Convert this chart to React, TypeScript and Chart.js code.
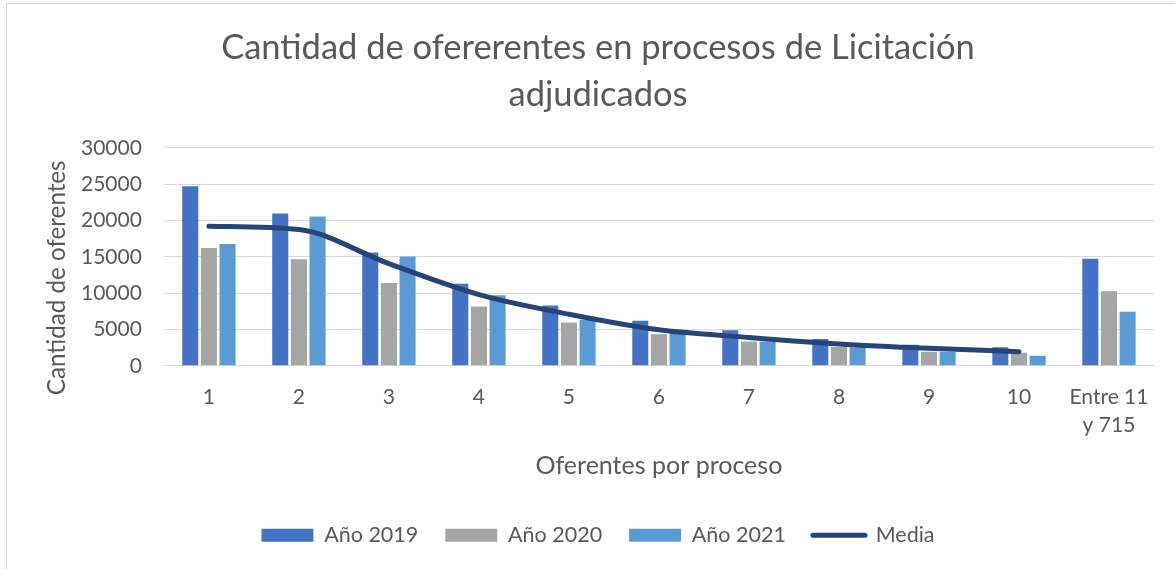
import React, { useEffect, useRef } from "react";
import { Chart, registerables } from "chart.js";

Chart.register(...registerables);

const categories: (string | string[])[] = ["1", "2", "3", "4", "5", "6", "7", "8", "9", "10", ["Entre 11", "y 715"]];
const year2019 = [24700, 20950, 15600, 11300, 8300, 6200, 4900, 3700, 2900, 2550, 14750];
const year2020 = [16200, 14650, 11400, 8150, 5950, 4350, 3350, 2600, 1950, 1800, 10250];
const year2021 = [16750, 20550, 15050, 9700, 6350, 4650, 3300, 2550, 1950, 1400, 7450];
const media = [19200, 18750, 14050, 9800, 7100, 4950, 3900, 3000, 2400, 1950, null];
const titleLines = ["Cantidad de ofererentes en procesos de Licitación", "adjudicados"];
const yTitle = "Cantidad de oferentes";

const FONT = "Lato";
const TEXT = "#595959";

const yTitlePlugin = {
  id: "yTitlePlugin",
  afterDraw(chart: any) {
    const { ctx, chartArea } = chart;
    ctx.save();
    ctx.fillStyle = TEXT;
    ctx.font = `24.2px ${FONT}`;
    ctx.textAlign = "center";
    ctx.textBaseline = "middle";
    ctx.translate(57.5, (chartArea.top + chartArea.bottom) / 2 + 21);
    ctx.rotate(-Math.PI / 2);
    ctx.fillText(yTitle, 0, 0);
    ctx.restore();
  },
};

export default function App() {
  const ref = useRef<HTMLCanvasElement | null>(null);

  useEffect(() => {
    if (!ref.current) return;
    const chart = new Chart(ref.current, {
      type: "bar",
      data: {
        labels: categories as any,
        datasets: [
          { label: "Año 2019", data: year2019, backgroundColor: "#4472C4", order: 2 },
          { label: "Año 2020", data: year2020, backgroundColor: "#A5A5A5", order: 2 },
          { label: "Año 2021", data: year2021, backgroundColor: "#5B9BD5", order: 2 },
          {
            type: "line" as any,
            label: "Media",
            data: media as any,
            borderColor: "#264478",
            backgroundColor: "#264478",
            borderWidth: 5,
            borderCapStyle: "round",
            borderJoinStyle: "round",
            pointRadius: 0,
            cubicInterpolationMode: "monotone",
            spanGaps: false,
            order: 0,
          } as any,
        ],
      },
      plugins: [yTitlePlugin],
      options: {
        animation: false,
        responsive: false,
        maintainAspectRatio: false,
        layout: { padding: { left: 42, right: 21, top: 24, bottom: 13 } },
        datasets: {
          bar: { categoryPercentage: 0.622, barPercentage: 0.86 },
        } as any,
        plugins: {
          tooltip: { enabled: false },
          title: {
            display: true,
            text: titleLines,
            color: TEXT,
            font: { family: FONT, size: 34.5, weight: "normal", lineHeight: 1.36 },
            padding: { top: 0, bottom: 30 },
          },
          legend: {
            position: "bottom",
            labels: {
              color: TEXT,
              font: { family: FONT, size: 21.5 },
              usePointStyle: true,
              pointStyleWidth: 52,
              boxHeight: 13,
              padding: 27,
              sort: (a: any, b: any) => a.datasetIndex - b.datasetIndex,
              generateLabels: (c: any) => {
                const items = Chart.defaults.plugins.legend.labels.generateLabels(c);
                return items.map((it: any) => ({
                  ...it,
                  pointStyle: it.datasetIndex === 3 ? "line" : "rect",
                  lineWidth: it.datasetIndex === 3 ? 5 : 0,
                  lineCap: "round",
                }));
              },
            },
          },
        },
        scales: {
          x: {
            grid: { display: false, drawTicks: false },
            border: { display: true, color: "#D9D9D9", width: 1 },
            ticks: { color: TEXT, font: { family: FONT, size: 21, lineHeight: 1.35 }, padding: 17, maxRotation: 0, autoSkip: false },
            title: {
              display: true,
              text: "Oferentes por proceso",
              color: TEXT,
              font: { family: FONT, size: 25 },
              padding: { top: 11, bottom: 17 },
            },
            afterFit: (s: any) => {
              s.height -= 17;
            },
          },
          y: {
            min: 0,
            max: 30000,
            ticks: {
              stepSize: 5000,
              color: TEXT,
              font: { family: FONT, size: 21 },
              padding: 22,
              callback: (v: any) => String(v),
            },
            grid: { color: "#D9D9D9", lineWidth: 1, drawTicks: false },
            border: { display: false },
            title: { display: false },
            afterFit: (s: any) => {
              s.width += 17;
            },
          },
        },
      },
    });
    return () => chart.destroy();
  }, []);

  return (
    <div style={{ position: "absolute", left: 0, top: 0, width: 1175, height: 569, overflow: "hidden", background: "#fff" }}>
      <div
        style={{
          position: "absolute",
          left: 6,
          top: 3,
          width: 1300,
          height: 700,
          borderLeft: "1px solid #D9D9D9",
          borderTop: "1px solid #D9D9D9",
        }}
      />
      <canvas ref={ref} width={1175} height={569} style={{ position: "absolute", left: 0, top: 0, width: 1175, height: 569 }} />
    </div>
  );
}
